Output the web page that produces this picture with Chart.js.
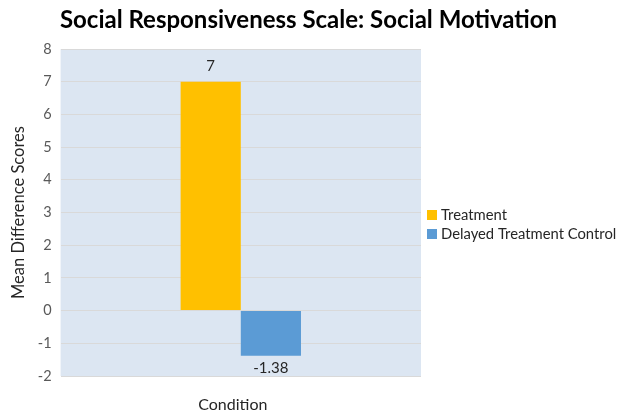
<!DOCTYPE html>
<html>
<head>
<meta charset="utf-8">
<script src="https://cdn.jsdelivr.net/npm/chart.js@4"></script>
<style>
  html, body { margin: 0; padding: 0; background: #ffffff; }
  #wrap { width: 617px; height: 415px; }
</style>
</head>
<body>
<div id="wrap"><canvas id="c" width="617" height="415"></canvas></div>
<script>
const chartTitle = 'Social Responsiveness Scale: Social Motivation';
const categories = ['Condition'];
const seriesNames = ['Treatment', 'Delayed Treatment Control'];
const treatmentValues = [7];
const controlValues = [-1.38];
const valueLabels = ['7', '-1.38'];
const yTicks = [-2, -1, 0, 1, 2, 3, 4, 5, 6, 7, 8];
const seriesColors = ['#FFC000', '#5B9BD5'];

const FONT = "Lato, 'Open Sans', 'Liberation Sans', sans-serif";

// light blue plot background
const plotBackground = {
  id: 'plotBackground',
  beforeDraw(chart) {
    const { ctx, chartArea: a } = chart;
    ctx.save();
    ctx.fillStyle = '#DCE6F2';
    ctx.fillRect(a.left, a.top, a.right - a.left, a.bottom - a.top);
    ctx.restore();
  }
};

// value labels: above positive bars, below negative ones
const barValues = {
  id: 'barValues',
  afterDatasetsDraw(chart) {
    const { ctx } = chart;
    ctx.save();
    ctx.font = '15px ' + FONT;
    ctx.fillStyle = '#262626';
    ctx.textAlign = 'center';
    chart.data.datasets.forEach((ds, i) => {
      const meta = chart.getDatasetMeta(i);
      meta.data.forEach((bar, j) => {
        const v = ds.data[j];
        if (v >= 0) {
          ctx.textBaseline = 'bottom';
          ctx.fillText(valueLabels[i], bar.x, bar.y - 8);
        } else {
          ctx.textBaseline = 'top';
          ctx.fillText(valueLabels[i], bar.x, bar.y + 5);
        }
      });
    });
    ctx.restore();
  }
};

// page title across the full width, legend right of the plot, category caption
const decorations = {
  id: 'decorations',
  afterDraw(chart) {
    const { ctx, chartArea: a, width } = chart;
    ctx.save();
    ctx.fillStyle = '#000000';
    ctx.font = 'bold 24px ' + FONT;
    ctx.textAlign = 'center';
    ctx.textBaseline = 'alphabetic';
    ctx.fillText(chartTitle, width / 2, 28);

    ctx.font = '14.8px ' + FONT;
    ctx.textBaseline = 'middle';
    ctx.textAlign = 'left';
    const x0 = a.right + 6;
    const yMid = (a.top + a.bottom) / 2 + 12;
    chart.data.datasets.forEach((ds, i) => {
      const y = yMid - 9.5 + i * 19;
      ctx.fillStyle = ds.backgroundColor;
      ctx.fillRect(x0, y - 5, 10, 10);
      ctx.fillStyle = '#262626';
      ctx.fillText(ds.label, x0 + 14, y);
    });

    ctx.font = '16px ' + FONT;
    ctx.textAlign = 'center';
    ctx.fillText(categories[0], (a.left + a.right) / 2 - 8, a.bottom + 29);
    ctx.restore();
  }
};

new Chart(document.getElementById('c'), {
  type: 'bar',
  data: {
    labels: categories,
    datasets: [
      { label: seriesNames[0], data: treatmentValues, backgroundColor: seriesColors[0] },
      { label: seriesNames[1], data: controlValues, backgroundColor: seriesColors[1] }
    ]
  },
  options: {
    responsive: false,
    animation: false,
    devicePixelRatio: 1,
    layout: { padding: { left: 9, right: 196, top: 49, bottom: 39 } },
    datasets: { bar: { categoryPercentage: 0.334, barPercentage: 1 } },
    plugins: {
      title: { display: false },
      legend: { display: false },
      tooltip: { enabled: false }
    },
    scales: {
      x: {
        grid: { display: false, drawTicks: false },
        border: { display: false },
        ticks: { display: false }
      },
      y: {
        min: yTicks[0],
        max: yTicks[yTicks.length - 1],
        afterBuildTicks(scale) { scale.ticks = yTicks.map(v => ({ value: v })); },
        grid: { color: '#D9D9D9', drawTicks: false, lineWidth: 1 },
        border: { display: false },
        ticks: {
          color: '#595959',
          font: { family: FONT, size: 14.5 },
          padding: 9
        },
        title: {
          display: true,
          text: 'Mean Difference Scores',
          color: '#262626',
          font: { family: FONT, size: 16.5 },
          padding: { top: 0, bottom: 0 }
        }
      }
    }
  },
  plugins: [plotBackground, barValues, decorations]
});
</script>
</body>
</html>
